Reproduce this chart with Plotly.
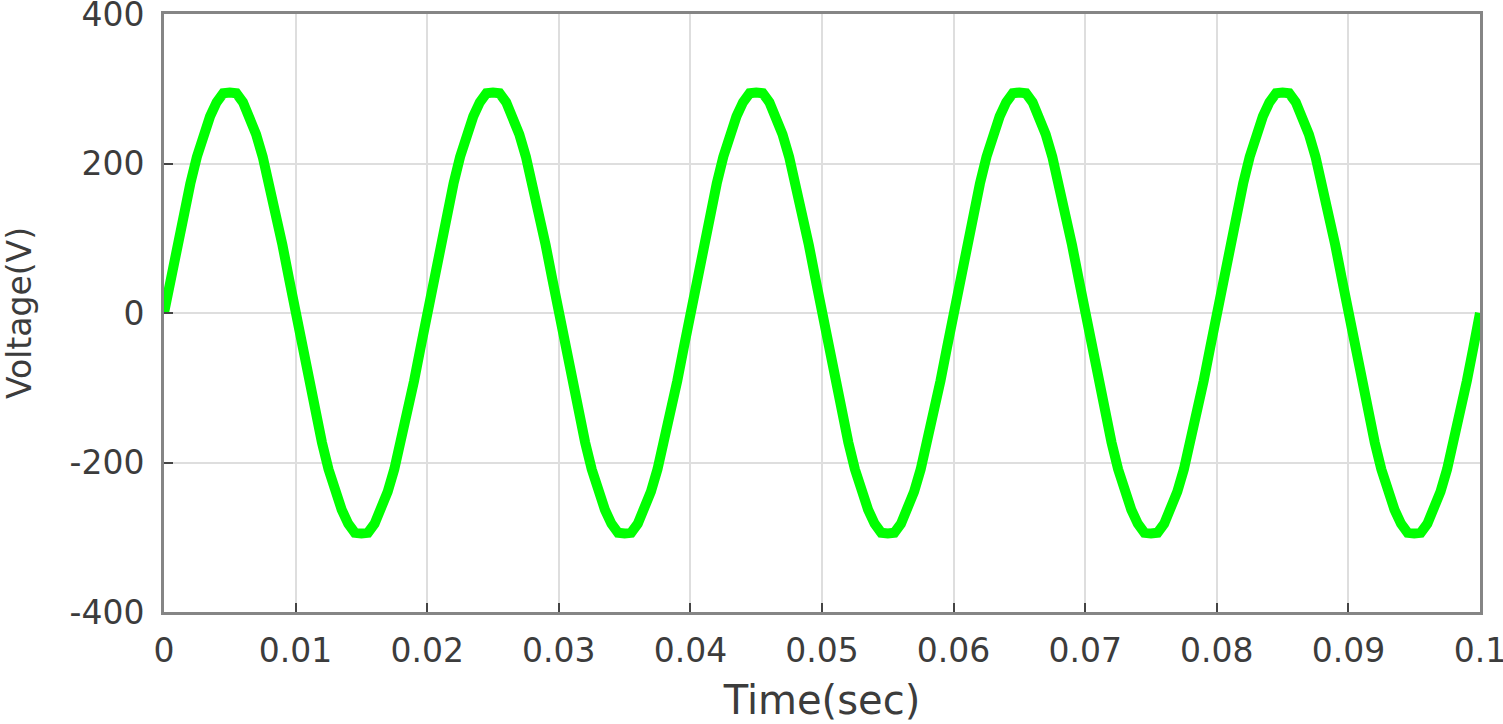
import plotly.graph_objects as go

# sampled inverter output voltage, one sample every 0.5 ms
sample_dt = 0.0005
cycle_1 = [0, 46, 91, 134, 173, 209, 239, 263, 282, 294, 295, 294, 282, 263, 239, 209, 173, 134, 91, 46,
           0, -46, -91, -134, -173, -209, -239, -263, -282, -294, -295, -294, -282, -263, -239, -209, -173, -134, -91, -46]
cycle_2 = [0, 46, 91, 134, 173, 209, 239, 263, 282, 294, 295, 294, 282, 263, 239, 209, 173, 134, 91, 46,
           0, -46, -91, -134, -173, -209, -239, -263, -282, -294, -295, -294, -282, -263, -239, -209, -173, -134, -91, -46]
cycle_3 = [0, 46, 91, 134, 173, 209, 239, 263, 282, 294, 295, 294, 282, 263, 239, 209, 173, 134, 91, 46,
           0, -46, -91, -134, -173, -209, -239, -263, -282, -294, -295, -294, -282, -263, -239, -209, -173, -134, -91, -46]
cycle_4 = [0, 46, 91, 134, 173, 209, 239, 263, 282, 294, 295, 294, 282, 263, 239, 209, 173, 134, 91, 46,
           0, -46, -91, -134, -173, -209, -239, -263, -282, -294, -295, -294, -282, -263, -239, -209, -173, -134, -91, -46]
cycle_5 = [0, 46, 91, 134, 173, 209, 239, 263, 282, 294, 295, 294, 282, 263, 239, 209, 173, 134, 91, 46,
           0, -46, -91, -134, -173, -209, -239, -263, -282, -294, -295, -294, -282, -263, -239, -209, -173, -134, -91, -46,
           0]

x_ticks = [0, 0.01, 0.02, 0.03, 0.04, 0.05, 0.06, 0.07, 0.08, 0.09, 0.1]
x_labels = ['0', '0.01', '0.02', '0.03', '0.04', '0.05', '0.06', '0.07', '0.08', '0.09', '0.1']
y_ticks = [-400, -200, 0, 200, 400]
y_labels = ['-400', '-200', '0', '200', '400']

voltage = cycle_1 + cycle_2 + cycle_3 + cycle_4 + cycle_5

fig = go.Figure()
fig.add_trace(go.Scatter(
    x0=0, dx=sample_dt, y=voltage,
    mode='lines',
    line=dict(color='#00ff00', width=10),
    showlegend=False
))

tick_font = dict(family='DejaVu Sans, sans-serif', size=33, color='#3c3c3c')

fig.update_xaxes(
    range=[0, 0.1], tickvals=x_ticks, ticktext=x_labels,
    showgrid=True, gridcolor='#dedede', gridwidth=1.5,
    showline=True, linecolor='#858585', linewidth=3, mirror=True,
    ticks='inside', ticklen=9, tickcolor='#444444', tickwidth=2,
    tickfont=tick_font, ticklabelstandoff=7, ticklabeloverflow='allow',
    zeroline=False, automargin=False,
    title=dict(text='Time(sec)', font=dict(family='DejaVu Sans, sans-serif', size=40, color='#3c3c3c'),
               standoff=18)
)
fig.update_yaxes(
    range=[-400, 400], tickvals=y_ticks, ticktext=y_labels,
    showgrid=True, gridcolor='#dedede', gridwidth=1.5,
    showline=True, linecolor='#858585', linewidth=3, mirror=True,
    ticks='inside', ticklen=9, tickcolor='#444444', tickwidth=2,
    tickfont=tick_font, ticklabelstandoff=10, ticklabeloverflow='allow',
    zeroline=False, automargin=False,
    title=dict(text='Voltage(V)', font=dict(family='DejaVu Sans, sans-serif', size=33, color='#3c3c3c'),
               standoff=32)
)

fig.update_layout(
    width=1503, height=724,
    plot_bgcolor='white', paper_bgcolor='white',
    margin=dict(l=164, r=23, t=14, b=112),
)

# drop the default body margin so the figure fills the window exactly
fig.write_html("out.html", config={'displayModeBar': False},
               post_script="document.body.style.margin = '0';")
